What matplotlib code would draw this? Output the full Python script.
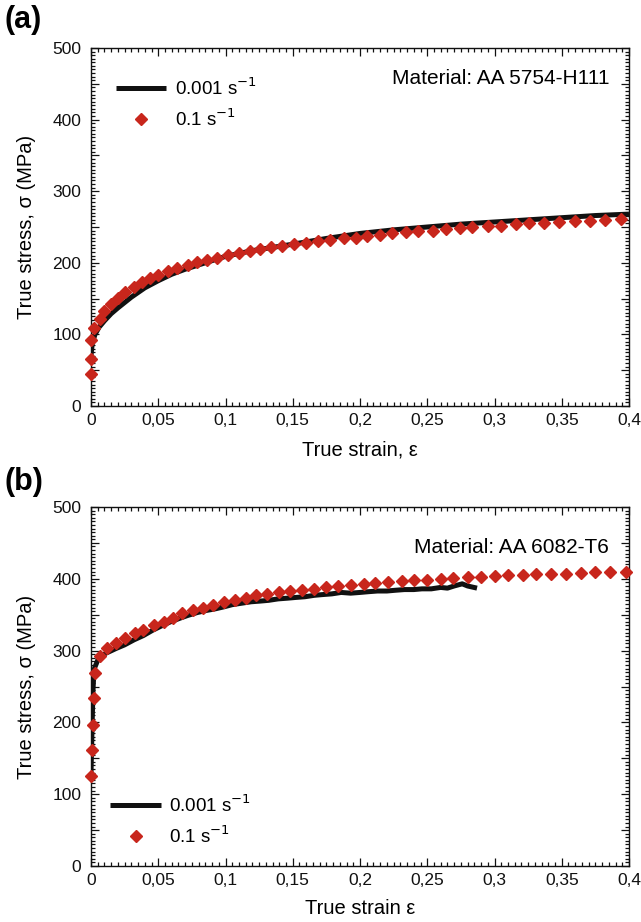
import numpy as np
import matplotlib
matplotlib.use("Agg")
import matplotlib.pyplot as plt
from matplotlib.ticker import MultipleLocator, FuncFormatter

plt.rcParams['font.family'] = ['Liberation Sans', 'DejaVu Sans']

# ---------------- data (a) AA 5754-H111 ----------------
a_slow_strain = [0, 0.0005, 0.001, 0.003, 0.006, 0.01, 0.015, 0.02, 0.03, 0.04, 0.05,
                 0.06, 0.07, 0.08, 0.1, 0.12, 0.15, 0.175, 0.2, 0.225, 0.25,
                 0.275, 0.3, 0.325, 0.35, 0.375, 0.4]
a_slow_stress = [70, 80, 88, 100, 110, 119, 129, 137, 152, 165, 175,
                 184, 191, 197, 209, 217, 226, 234, 241, 246, 250,
                 254, 257, 260, 263, 266, 268]

a_fast_strain = [0, 0, 0, 0.002, 0.0066, 0.01, 0.015, 0.02, 0.025, 0.032, 0.038, 0.044,
                 0.05, 0.057, 0.064, 0.072, 0.079, 0.086, 0.094, 0.102, 0.11, 0.118,
                 0.126, 0.134, 0.142, 0.151, 0.16, 0.169, 0.178, 0.188, 0.197, 0.205,
                 0.215, 0.224, 0.234, 0.243, 0.254, 0.264, 0.274, 0.283, 0.295, 0.305,
                 0.316, 0.326, 0.337, 0.348, 0.36, 0.371, 0.382, 0.394]
a_fast_stress = [44, 66, 92, 109, 122, 132, 142, 151, 159, 166, 173, 179,
                 183, 188, 193, 197, 201, 204, 207, 211, 214, 217,
                 219, 222, 224, 226, 228, 230, 232, 234, 235, 237,
                 239, 241, 243, 244, 245, 247, 248, 250, 251, 252,
                 254, 255, 256, 257, 258, 259, 260, 261]

# ---------------- data (b) AA 6082-T6 ----------------
b_slow_strain = [0, 0.0005, 0.001, 0.0015, 0.002, 0.0027, 0.004, 0.0053, 0.0107, 0.0187,
                 0.025, 0.032, 0.039, 0.0455, 0.052, 0.059, 0.066, 0.072, 0.079, 0.086,
                 0.092, 0.099, 0.105, 0.112, 0.119, 0.126, 0.132, 0.139, 0.146,
                 0.152, 0.159, 0.166, 0.172, 0.179, 0.186, 0.193, 0.2, 0.206, 0.213,
                 0.22, 0.226, 0.233, 0.24, 0.246, 0.253, 0.26,
                 0.265, 0.27, 0.276, 0.28, 0.287]
b_slow_stress = [128, 170, 210, 245, 265, 276, 282, 288, 296, 303,
                 308, 315, 321, 328, 334, 340, 345, 349, 353, 356,
                 358, 361, 364, 366, 368, 369, 370, 372, 373,
                 374, 375, 377, 378, 379, 381, 380, 381, 382, 383,
                 383, 384, 385, 385, 386, 386, 388,
                 387, 390, 393, 390, 387]

b_fast_strain = [0, 0.0008, 0.0013, 0.0019, 0.0027, 0.0066, 0.012, 0.0186, 0.025, 0.0324,
                 0.039, 0.0468, 0.054, 0.061, 0.068, 0.0757, 0.083, 0.091, 0.099, 0.107,
                 0.115, 0.123, 0.131, 0.14, 0.148, 0.157, 0.166, 0.175, 0.184, 0.193,
                 0.203, 0.211, 0.221, 0.231, 0.24, 0.25, 0.26, 0.269, 0.28, 0.29,
                 0.3, 0.31, 0.321, 0.331, 0.342, 0.353, 0.364, 0.375, 0.386, 0.398]
b_fast_stress = [125, 161, 197, 234, 269, 293, 304, 311, 317, 324,
                 329, 335, 340, 346, 352, 356, 360, 364, 368, 370,
                 373, 377, 379, 381, 383, 385, 386, 389, 390, 392,
                 393, 394, 396, 397, 398, 399, 400, 401, 402, 402,
                 404, 405, 405, 406, 406.5, 407, 408, 409, 409, 410]

x_ticks = [0, 0.05, 0.1, 0.15, 0.2, 0.25, 0.3, 0.35, 0.4]
y_ticks = [0, 100, 200, 300, 400, 500]
legend_labels = ['0.001 s$^{-1}$', '0.1 s$^{-1}$']

RED = '#c8261c'
FS_TICK = 12.5
FS_LAB = 14.5
FS_LEG = 13.5
FS_MAT = 15

fig = plt.figure(figsize=(6.41, 9.22), dpi=100)
ax_a = fig.add_axes([91/641, 1-406/922, 538/641, 358/922])
ax_b = fig.add_axes([91/641, 1-866/922, 538/641, 359/922])


def xfmt(v, pos):
    s = f"{v:.2f}".rstrip('0').rstrip('.')
    return s.replace('.', ',')


def yfmt(v, pos):
    if abs(v % 100) < 1e-6:
        return f"{int(round(v))}"
    return ''


def style(ax):
    ax.set_xlim(0, 0.4)
    ax.set_ylim(0, 500)
    ax.xaxis.set_major_locator(MultipleLocator(0.05))
    ax.xaxis.set_minor_locator(MultipleLocator(0.005))
    ax.yaxis.set_major_locator(MultipleLocator(50))
    ax.yaxis.set_minor_locator(MultipleLocator(5))
    ax.xaxis.set_major_formatter(FuncFormatter(xfmt))
    ax.yaxis.set_major_formatter(FuncFormatter(yfmt))
    ax.tick_params(which='both', direction='in', top=True, right=True,
                   labelsize=FS_TICK, width=0.9, colors='#111111')
    ax.tick_params(which='major', length=5.5)
    ax.tick_params(which='minor', length=3)
    ax.tick_params(axis='x', which='major', pad=5)
    ax.tick_params(axis='y', which='major', pad=7)
    for s in ax.spines.values():
        s.set_linewidth(1.0)
        s.set_color('#111111')


for ax, (ss, sy, fs_, fy, mat, maty, xl, xlpad, leg_anchor) in zip(
        [ax_a, ax_b],
        [(a_slow_strain, a_slow_stress, a_fast_strain, a_fast_stress,
          'Material: AA 5754-H111', 0.916, 'True strain, ε', 9, (0.046, 0.918)),
         (b_slow_strain, b_slow_stress, b_fast_strain, b_fast_stress,
          'Material: AA 6082-T6', 0.886, 'True strain ε', 8, (0.036, 0.2))]):
    style(ax)
    l1, = ax.plot(ss, sy, color='#111111', lw=3.6, solid_capstyle='butt',
                  label=legend_labels[0], zorder=2)
    l2, = ax.plot(fs_, fy, linestyle='none', marker='D', ms=5.7,
                  color=RED, mec=RED, label=legend_labels[1], zorder=3,
                  clip_on=False)
    ax.set_xlabel(xl, fontsize=FS_LAB, labelpad=xlpad)
    ax.set_ylabel('True stress, σ (MPa)', fontsize=FS_LAB, labelpad=12)
    ax.text(0.963, maty, mat, transform=ax.transAxes, ha='right', va='center',
            fontsize=FS_MAT)
    ax.legend(handles=[l1, l2], loc='upper left', bbox_to_anchor=leg_anchor,
              frameon=False, fontsize=FS_LEG, handlelength=2.7, handletextpad=0.45,
              labelspacing=0.5, borderpad=0, borderaxespad=0, numpoints=1)

fig.text(4/641, 1-20/922, '(a)', fontsize=22, fontweight='bold', va='center', ha='left')
fig.text(4/641, 1-482/922, '(b)', fontsize=22, fontweight='bold', va='center', ha='left')

fig.savefig('out.png', dpi=100)
